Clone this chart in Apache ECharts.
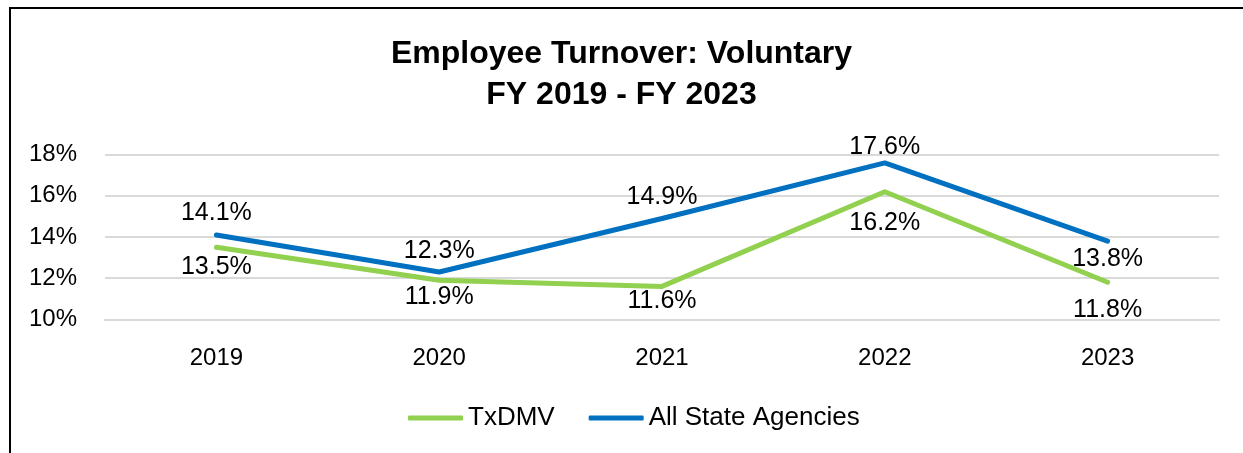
<!DOCTYPE html>
<html>
<head>
<meta charset="utf-8">
<script src="https://cdn.jsdelivr.net/npm/echarts@6/dist/echarts.min.js"></script>
<style>
html,body{margin:0;padding:0;background:#fff;}
#chart{width:1243px;height:453px;}
</style>
</head>
<body>
<div id="chart"></div>
<script>
const categories = ['2019', '2020', '2021', '2022', '2023'];
const txdmv = [13.5, 11.9, 11.6, 16.2, 11.8];
const allAgencies = [14.1, 12.3, 14.9, 17.6, 13.8];
const yTicks = [10, 12, 14, 16, 18];

const FONT = '"Liberation Sans", Arial, sans-serif';

// label placement (style only)
const blueLabelPos = ['top', 'top', 'top', 'top', 'bottom'];
const blueLabelDist = [8, 7, 8, 2, 4];
const greenLabelPos = ['bottom', 'bottom', 'bottom', 'bottom', 'bottom'];
const greenLabelDist = [6, 3, 1, 18, 14];

function buildData(values, pos, dist) {
  return values.map((v, i) => ({
    value: v,
    label: { position: pos[i], distance: dist[i] }
  }));
}

const chart = echarts.init(document.getElementById('chart'), null, { renderer: 'canvas' });
chart.setOption({
  animation: false,
  backgroundColor: '#ffffff',
  textStyle: { fontFamily: FONT },
  title: {
    text: 'Employee Turnover: Voluntary\nFY 2019 - FY 2023',
    left: 'center',
    top: 29,
    padding: [5, 5, 5, 18],
    textStyle: {
      fontFamily: FONT,
      fontWeight: 'bold',
      fontSize: 32,
      lineHeight: 41,
      color: '#000'
    }
  },
  graphic: [{
    type: 'rect',
    shape: { x: 10, y: 8, width: 1400, height: 600 },
    style: { fill: 'none', stroke: '#000', lineWidth: 2 },
    silent: true,
    z: 100
  }],
  legend: {
    bottom: 17,
    left: 403,
    itemWidth: 55,
    itemHeight: 5,
    itemGap: 34,
    icon: 'roundRect',
    textStyle: { fontFamily: FONT, fontSize: 26, color: '#000' },
    data: ['TxDMV', 'All State Agencies']
  },
  grid: { left: 105, right: 24, top: 154.7, bottom: 133.7, containLabel: false },
  xAxis: {
    type: 'category',
    data: categories,
    boundaryGap: true,
    axisLine: { show: true, lineStyle: { color: '#d9d9d9', width: 2 } },
    axisTick: { show: false },
    axisLabel: { fontFamily: FONT, fontSize: 24, color: '#000', margin: 27 }
  },
  yAxis: {
    type: 'value',
    min: yTicks[0],
    max: yTicks[yTicks.length - 1],
    interval: 2,
    axisLine: { show: false },
    axisTick: { show: false },
    axisLabel: { fontFamily: FONT, fontSize: 24, color: '#000', margin: 28, formatter: '{value}%' },
    splitLine: { lineStyle: { color: '#d9d9d9', width: 2 } }
  },
  series: [
    {
      name: 'TxDMV',
      type: 'line',
      data: buildData(txdmv, greenLabelPos, greenLabelDist),
      symbol: 'circle',
      symbolSize: 2,
      showSymbol: true,
      lineStyle: { color: '#92D050', width: 5, cap: 'round', join: 'round' },
      itemStyle: { color: '#92D050' },
      label: {
        show: true,
        fontFamily: FONT,
        fontSize: 25,
        color: '#000',
        formatter: p => p.value.toFixed(1) + '%'
      }
    },
    {
      name: 'All State Agencies',
      type: 'line',
      data: buildData(allAgencies, blueLabelPos, blueLabelDist),
      symbol: 'circle',
      symbolSize: 2,
      showSymbol: true,
      lineStyle: { color: '#0070C0', width: 5, cap: 'round', join: 'round' },
      itemStyle: { color: '#0070C0' },
      label: {
        show: true,
        fontFamily: FONT,
        fontSize: 25,
        color: '#000',
        formatter: p => p.value.toFixed(1) + '%'
      }
    }
  ]
});
</script>
</body>
</html>
